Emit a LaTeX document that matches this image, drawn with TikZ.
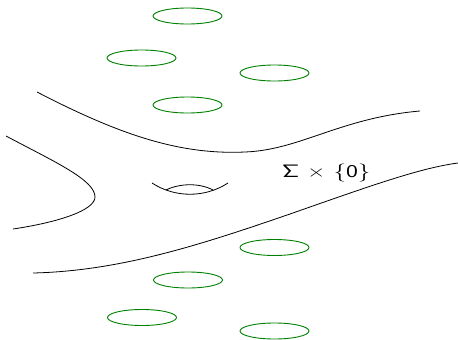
\documentclass[tikz,border=0pt]{standalone}
\usepackage{fontspec}
\usepackage{graphicx}
\begin{document}
\begin{tikzpicture}[x=1pt,y=-1pt,
  ring/.style={draw=green!50!black, line width=0.9pt},
  sheet/.style={draw=black, line width=0.8pt},
  lab/.style={font=\sffamily\fontsize{18}{21}\selectfont, inner sep=0pt, anchor=base west}]
\useasboundingbox (0,0) rectangle (458,340);
% green ellipses
\foreach \cx/\cy in {187.5/16, 141.5/58, 274.5/73, 187.5/105, 274.5/247.5, 188/280, 142/317.5, 274.5/331}
  \draw[ring] (\cx,\cy) ellipse [x radius=34.5pt, y radius=8pt];
% top sheet
\draw[sheet] (37,92) .. controls (120,135) and (180,155) .. (245,152)
  .. controls (300,150) and (340,118) .. (420,111);
% left fold
\draw[sheet] (6,136) .. controls (55,162) and (95,180) .. (95,197)
  .. controls (95,210) and (60,222) .. (13,229);
% bottom sheet
\draw[sheet] (33,273) .. controls (120,271) and (200,245) .. (290,214)
  .. controls (370,186) and (420,168) .. (458,163);
% handle
\draw[sheet] (152,183) .. controls (175,198) and (205,198) .. (228,183);
\draw[sheet] (166,190) .. controls (180,183) and (200,183) .. (213,190);
% label
\node[lab] (sigma) at (282,177) {\scalebox{1.4}[1]{Σ × \{0\}}};
\end{tikzpicture}
\end{document}
